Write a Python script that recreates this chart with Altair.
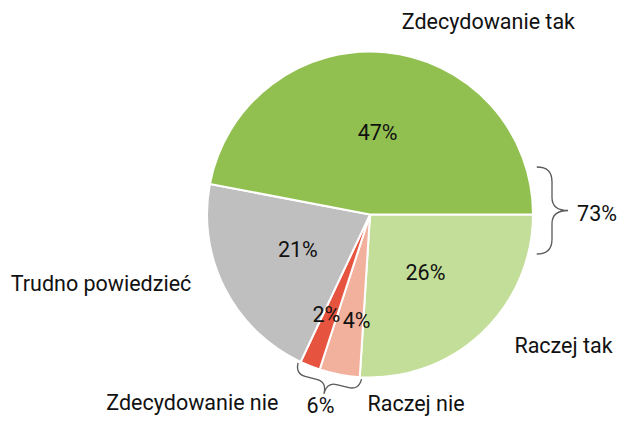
import math
import altair as alt
import pandas as pd

# ---- data (drawing order, clockwise from 3 o'clock) ----
categories = ["Raczej tak", "Raczej nie", "Zdecydowanie nie", "Trudno powiedzieć", "Zdecydowanie tak"]
values = [26, 4, 2, 21, 47]
colors = ["#C3DE98", "#F2B19C", "#E6533F", "#BFBFBF", "#92C050"]

group_members = [["Zdecydowanie tak", "Raczej tak"], ["Raczej nie", "Zdecydowanie nie"]]

# ---- layout / style ----
W, H = 609, 408
CX, CY = 362, 206.5
R = 163
FONT = "Roboto"
FS = 21.5
TXT = "#111111"
LABEL_R = 200
# per-category outer label: align, dx, dy (relative to mid-angle point at LABEL_R)
label_layout = {
    "Zdecydowanie tak": ("left", 13, 7.6),
    "Raczej tak": ("left", 7.5, -13),
    "Raczej nie": ("left", 35, -6),
    "Zdecydowanie nie": ("right", -18, 4),
    "Trudno powiedzieć": ("right", -0.5, -19.8),
}
# per-category inner label: radius, dx, dy
inner_layout = {
    "Zdecydowanie tak": (81, 0, 0),
    "Raczej tak": (81, 0, 0),
    "Raczej nie": (109, 7, 0),
    "Zdecydowanie nie": (109, -3.5, 0),
    "Trudno powiedzieć": (81, 0, 0),
}
# per-group: text radius, brace radius, brace length, brace dy
group_layout = [(227, 182, 87, -4), (199, 173, 65.5, 0)]

theta_scale = alt.Scale(domain=[0, 100], range=[math.pi / 2, math.pi / 2 + 2 * math.pi])

df = pd.DataFrame({"category": categories, "value": values, "idx": list(range(len(values)))})

base = alt.Chart(df).transform_window(
    end="sum(value)", sort=[alt.SortField("idx")], frame=[None, 0]
).transform_calculate(
    start="datum.end - datum.value",
    mid="datum.end - datum.value / 2",
    label="datum.value + '%'",
)

arcs = base.mark_arc(outerRadius=R, stroke="white", strokeWidth=2).encode(
    theta=alt.Theta("start:Q", scale=theta_scale),
    theta2="end:Q",
    color=alt.Color("category:N", scale=alt.Scale(domain=categories, range=colors), legend=None),
    x=alt.value(CX),
    y=alt.value(CY),
)

text_layers = []
for cat in categories:
    r_in, idx_, idy = inner_layout[cat]
    text_layers.append(
        base.transform_filter(alt.datum.category == cat)
        .mark_text(font=FONT, fontSize=FS, color=TXT, baseline="middle", dx=idx_, dy=idy)
        .encode(
            theta=alt.Theta("mid:Q", scale=theta_scale),
            radius=alt.value(r_in),
            text="label:N",
            x=alt.value(CX),
            y=alt.value(CY),
        )
    )
    al, dx, dy = label_layout[cat]
    text_layers.append(
        base.transform_filter(alt.datum.category == cat)
        .mark_text(font=FONT, fontSize=FS, color=TXT, align=al, baseline="middle", dx=dx, dy=dy)
        .encode(
            theta=alt.Theta("mid:Q", scale=theta_scale),
            radius=alt.value(LABEL_R),
            text="category:N",
            x=alt.value(CX),
            y=alt.value(CY),
        )
    )

# groups derived from data
cum = {}
acc = 0
for c, v in zip(categories, values):
    cum[c] = (acc, acc + v)
    acc += v
g_rows = []
for gi, members in enumerate(group_members):
    total = sum(values[categories.index(m)] for m in members)
    starts = [cum[m][0] for m in members]
    ends = [cum[m][1] for m in members]
    if min(starts) == 0 and max(ends) == acc:
        anchor = 0.0  # group wraps around the start: anchor at the junction
    else:
        anchor = (min(starts) + max(ends)) / 2
    tr, br, bl, bdy = group_layout[gi]
    a = math.pi / 2 + anchor / acc * 2 * math.pi
    g_rows.append({
        "label": f"{total}%",
        "anchor": anchor,
        "tr": tr,
        "bx": CX + br * math.sin(a),
        "by": CY - br * math.cos(a) + bdy,
        "rot": math.degrees(a) - 90,
        "sz": bl * bl,
    })
gdf = pd.DataFrame(g_rows)

group_text = alt.Chart(gdf).mark_text(font=FONT, fontSize=FS, color=TXT, baseline="middle").encode(
    theta=alt.Theta("anchor:Q", scale=theta_scale),
    radius=alt.Radius("tr:Q", scale=None),
    text="label:N",
    x=alt.value(CX),
    y=alt.value(CY),
)

BRACE = ("M -0.35 -1 C -0.12 -1 0 -0.9 0 -0.66 L 0 -0.3 C 0 -0.1 0.14 0 0.37 0 "
         "C 0.14 0 0 0.1 0 0.3 L 0 0.66 C 0 0.9 -0.12 1 -0.35 1")

braces = alt.Chart(gdf).mark_point(
    shape=BRACE, filled=False, stroke="#595959", strokeWidth=1.3, opacity=1
).encode(
    x=alt.X("bx:Q", scale=None, axis=None),
    y=alt.Y("by:Q", scale=None, axis=None),
    angle=alt.Angle("rot:Q", scale=None),
    size=alt.Size("sz:Q", scale=None, legend=None),
)

chart = alt.layer(arcs, *text_layers, group_text, braces).properties(
    width=W, height=H, padding=0, background="white"
).configure_view(stroke=None)

chart.save("out.html", embed_options={"renderer": "svg", "actions": False})
